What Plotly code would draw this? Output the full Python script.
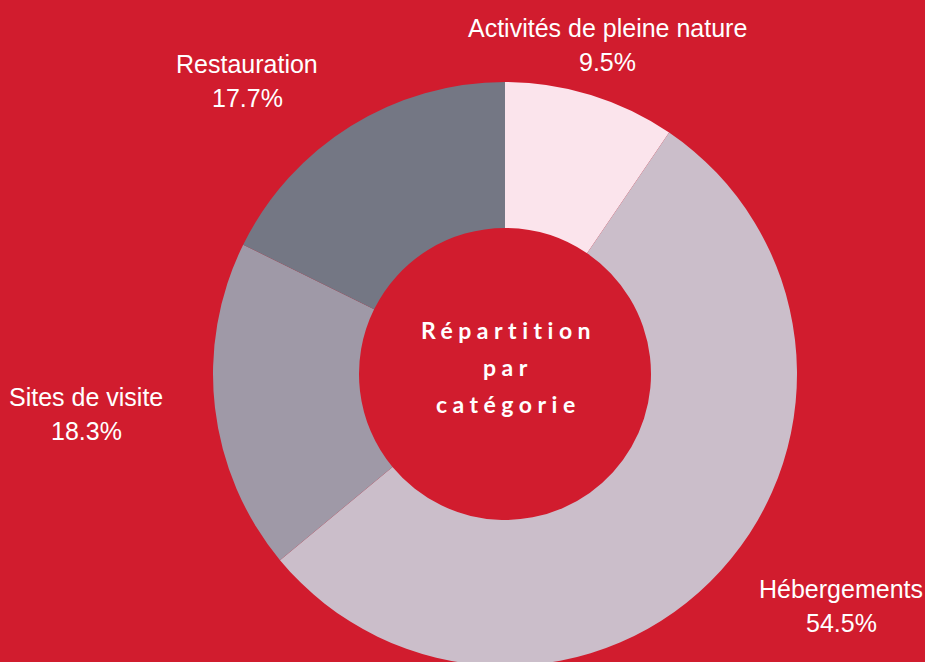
import plotly.graph_objects as go

categories = ["Activités de pleine nature", "Hébergements", "Sites de visite", "Restauration"]
values = [9.5, 54.5, 18.3, 17.7]
colors = ["#FBE4EC", "#CBBECA", "#9F99A7", "#747784"]
center_lines = ["Répartition", "par", "catégorie"]

BG = "#D11C2E"
W, H = 925, 666  # bottom 4px fall just outside the 662px window, as in the reference

# label block centres (pixels from top-left) - layout only
label_pos = [(607, 45), (841, 606), (86, 414), (247, 81)]

fig = go.Figure(go.Pie(
    labels=categories,
    values=values,
    hole=0.5,
    sort=False,
    direction="clockwise",
    rotation=0,
    marker=dict(colors=colors, line=dict(width=0)),
    textinfo="none",
    hoverinfo="label+percent",
    domain=dict(x=[213 / W, 797 / W], y=[0, 584 / H]),
    showlegend=False,
))

total = sum(values)
lab_font = dict(family="Liberation Sans, Arial, sans-serif", size=25, color="white")
for cat, val, (px, py) in zip(categories, values, label_pos):
    pct = f"{val / total * 100:.1f}%"
    for txt, dy in ((cat, -17), (pct, 17)):
        fig.add_annotation(
            x=px / W, y=1 - (py + dy) / H, xref="paper", yref="paper",
            text=txt, showarrow=False, xanchor="center", yanchor="middle",
            font=lab_font,
        )

for i, line in enumerate(center_lines):
    fig.add_annotation(
        x=508 / W, y=1 - 372 / H, xref="paper", yref="paper",
        text=f"<span style='letter-spacing:5.5px'><b>{line}</b></span>",
        showarrow=False, yshift=42 - 37 * i,
        font=dict(family="Lato, sans-serif", size=23, color="white"),
    )

fig.update_layout(
    width=W, height=H,
    margin=dict(l=0, r=0, t=0, b=0),
    paper_bgcolor=BG, plot_bgcolor=BG,
)

fig.write_html(
    "out.html",
    config={"displayModeBar": False},
    post_script="document.body.style.margin='0';document.body.style.overflow='hidden';"
                "document.documentElement.style.overflow='hidden';",
)
